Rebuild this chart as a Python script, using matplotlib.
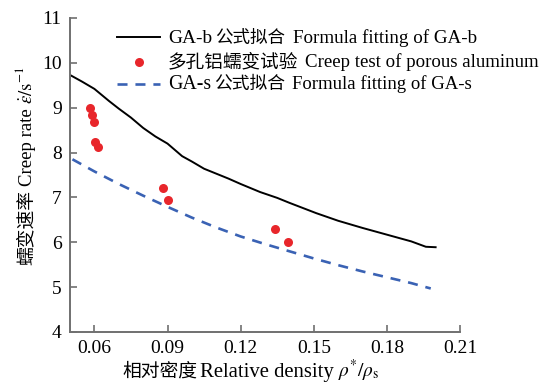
import matplotlib
matplotlib.use("Agg")
import matplotlib.pyplot as plt
from matplotlib.transforms import IdentityTransform
from matplotlib.lines import Line2D

plt.rcParams['font.family'] = ['Liberation Serif', 'Noto Sans CJK SC']
plt.rcParams['mathtext.fontset'] = 'stix'

# GA-b formula fitting
xb = [0.050, 0.055, 0.060, 0.066, 0.070, 0.075, 0.080, 0.085, 0.090, 0.096, 0.100, 0.105,
      0.110, 0.115, 0.120, 0.128, 0.135, 0.140, 0.151, 0.160, 0.170, 0.178, 0.190, 0.196, 0.200]
yb = [9.73, 9.58, 9.42, 9.15, 8.98, 8.78, 8.55, 8.36, 8.20, 7.92, 7.80, 7.64,
      7.53, 7.42, 7.30, 7.12, 6.99, 6.88, 6.65, 6.48, 6.32, 6.20, 6.02, 5.90, 5.89]

# Creep test of porous aluminum
xt = [0.0582, 0.0590, 0.0598, 0.0602, 0.0615, 0.0880, 0.0900, 0.1343, 0.1396]
yt = [8.99, 8.84, 8.68, 8.23, 8.12, 7.20, 6.95, 6.29, 6.01]

# GA-s formula fitting
xs = [0.051, 0.060, 0.070, 0.080, 0.090, 0.100, 0.110, 0.120, 0.130, 0.140,
      0.150, 0.160, 0.170, 0.180, 0.190, 0.198]
ys = [7.85, 7.58, 7.30, 7.04, 6.79, 6.55, 6.33, 6.13, 5.96, 5.80,
      5.64, 5.49, 5.35, 5.22, 5.09, 4.97]

xticks = [0.06, 0.09, 0.12, 0.15, 0.18, 0.21]
yticks = [4, 5, 6, 7, 8, 9, 10, 11]

SERIF = ['Liberation Serif', 'DejaVu Serif']
CJK = ['Noto Sans CJK SC', 'DejaVu Sans']

BLACK_STYLE = dict(color='black', lw=1.4)
DOT_STYLE = dict(marker='o', ls='none', color='#e8262b', ms=6.5, mec='none')
DASH_STYLE = dict(color='#3a62b4', lw=1.9, ls=(0, (3.8, 3.0)))

W, H = 541, 390
fig = plt.figure(figsize=(W / 100, H / 100), dpi=100)
ax = fig.add_axes([70 / W, 1 - 332 / H, 390 / W, 314 / H])

ax.plot(xb, yb, **BLACK_STYLE)
ax.plot(xt, yt, **DOT_STYLE)
ax.plot(xs, ys, **DASH_STYLE)

ax.set_xlim(0.05, 0.21)
ax.set_ylim(4, 11)
ax.set_xticks(xticks)
ax.set_xticklabels([f'{t:.2f}' for t in xticks])
ax.set_yticks(yticks)
ax.set_yticklabels([str(t) for t in yticks])

for s in ['top', 'right']:
    ax.spines[s].set_visible(False)
for s in ['left', 'bottom']:
    ax.spines[s].set_color('#707070')
    ax.spines[s].set_linewidth(1.4)
ax.tick_params(direction='in', length=5, width=1.2, color='#707070', labelsize=14, pad=6)

# legend keys (display pixel coordinates)
ident = IdentityTransform()
fig.add_artist(Line2D([117, 160], [353, 353], transform=ident, **BLACK_STYLE))
fig.add_artist(Line2D([138.5], [328], transform=ident, **DOT_STYLE))
fig.add_artist(Line2D([117, 160], [306, 306], transform=ident, **DASH_STYLE))

renderer = fig.canvas.get_renderer()


def piece(s, x, y, length, family, rot=0):
    t = fig.text(x, y, s, transform=ident, fontsize=10, family=family,
                 rotation=0, rotation_mode='anchor', ha='left', va='baseline')
    cur = t.get_window_extent(renderer).width
    t.set_fontsize(10 * length / cur)
    t.set_rotation(rot)
    return t


def chain_vertical(parts, x, y0):
    """Place rotated (90 deg) text parts one after another going upward."""
    y = y0
    for s, size, fam, gap in parts:
        t = fig.text(x, y, s, transform=ident, fontsize=size, family=fam,
                     rotation=0, rotation_mode='anchor', ha='left', va='baseline')
        w = t.get_window_extent(renderer).width
        t.set_rotation(90)
        y += w + gap


# legend texts: (baseline y, [(text, x start, length, family)])
rows = [
    (347, [('GA-b', 168, 44, SERIF), ('公式拟合', 215, 70, CJK),
           ('Formula fitting of GA-b', 293, 184, SERIF)]),
    (323, [('多孔铝蠕变试验', 168, 130, CJK),
           ('Creep test of porous aluminum', 305, 233, SERIF)]),
    (301, [('GA-s', 168, 43, SERIF), ('公式拟合', 214, 71, CJK),
           ('Formula fitting of GA-s', 292, 180, SERIF)]),
]
for ybase, items in rows:
    for s, x0, L, fam in items:
        piece(s, x0, ybase, L, fam)

# x label
piece('相对密度', 122, 13, 75, CJK)
piece('Relative density', 200, 13, 135, SERIF)
piece(r'$\rho^{*}/\rho_{\mathrm{s}}$', 338, 13, 42, SERIF)

# y label (rotated)
chain_vertical([
    ('蠕变速率', 13.5, CJK, 4),
    ('Creep rate', 13.5, SERIF, 4),
    (r'$\dot{\varepsilon}/\mathrm{s}^{-1}$', 13.5, SERIF, 0),
], 32, 125)

fig.savefig('out.png', dpi=100)
